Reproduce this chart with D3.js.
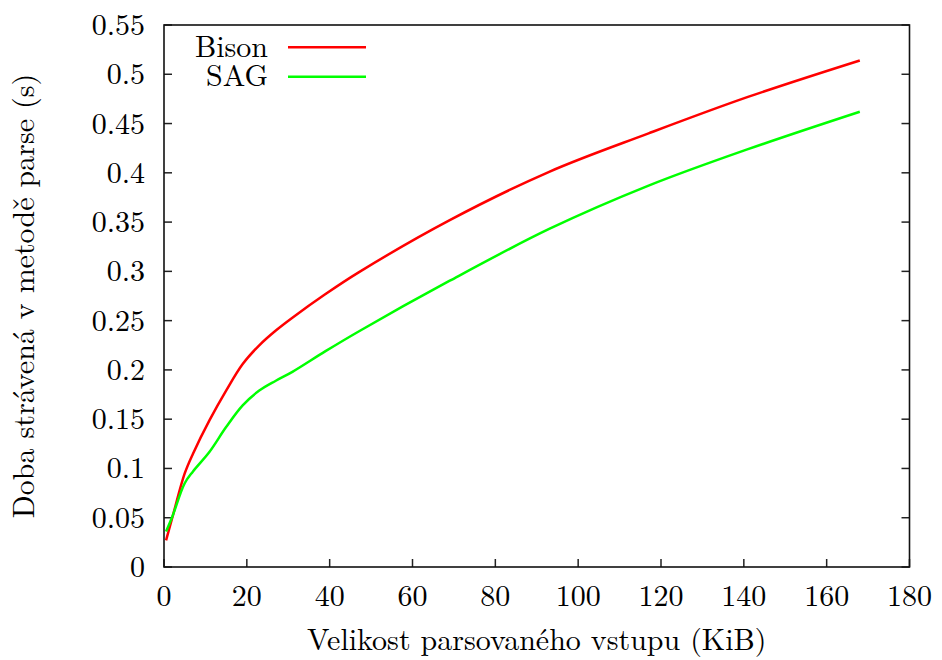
<!DOCTYPE html>
<html>
<head>
<meta charset="utf-8">
<script src="https://cdn.jsdelivr.net/npm/d3@7"></script>
<style>
  body { margin: 0; background: #fff; }
</style>
</head>
<body>
<div id="chart"></div>
<script>
// data
const sizes = [0.5, 2, 5, 7, 11, 15, 19, 23, 27, 31, 39, 47, 69, 93, 117, 141, 168];
const bison = [0.027, 0.050, 0.095, 0.115, 0.149, 0.179, 0.206, 0.225, 0.240, 0.253, 0.277, 0.299, 0.352, 0.401, 0.440, 0.477, 0.514];
const sag = [0.036, 0.051, 0.085, 0.097, 0.117, 0.142, 0.164, 0.179, 0.189, 0.198, 0.219, 0.239, 0.2905, 0.343, 0.387, 0.424, 0.462];
const xTicks = [0, 20, 40, 60, 80, 100, 120, 140, 160, 180];
const yTicks = [0, 0.05, 0.1, 0.15, 0.2, 0.25, 0.3, 0.35, 0.4, 0.45, 0.5, 0.55];
const seriesNames = ["Bison", "SAG"];
const seriesColors = ["#ff0000", "#00ff00"];

const width = 942, height = 660;
const margin = {top: 25, right: 32.5, bottom: 93, left: 164};
const innerW = width - margin.left - margin.right;
const innerH = height - margin.top - margin.bottom;

const FONT = "'Latin Modern Roman', 'Liberation Serif', serif";
const fontSize = 30;

const svg = d3.select("#chart").append("svg")
  .attr("width", width)
  .attr("height", height);

const g = svg.append("g").attr("transform", `translate(${margin.left},${margin.top})`);

const x = d3.scaleLinear().domain([0, 180]).range([0, innerW]);
const y = d3.scaleLinear().domain([0, 0.55]).range([innerH, 0]);

function label(sel) {
  return sel.style("font-family", FONT).style("font-size", fontSize + "px").attr("fill", "#000");
}

// ticks (inward), y mirrored on right
g.selectAll(".xt").data(xTicks).enter().append("line")
  .attr("x1", d => x(d)).attr("x2", d => x(d))
  .attr("y1", innerH).attr("y2", innerH - 8)
  .attr("stroke", "#222").attr("stroke-width", 1.5);
g.selectAll(".yl").data(yTicks).enter().append("line")
  .attr("x1", 0).attr("x2", 8)
  .attr("y1", d => y(d)).attr("y2", d => y(d))
  .attr("stroke", "#222").attr("stroke-width", 1.5);
g.selectAll(".yr").data(yTicks).enter().append("line")
  .attr("x1", innerW).attr("x2", innerW - 8)
  .attr("y1", d => y(d)).attr("y2", d => y(d))
  .attr("stroke", "#222").attr("stroke-width", 1.5);

// tick labels
g.selectAll(".xlab").data(xTicks).enter().append("text")
  .attr("x", d => x(d)).attr("y", innerH + 39)
  .attr("text-anchor", "middle")
  .call(label)
  .text(d => d);
g.selectAll(".ylab").data(yTicks).enter().append("text")
  .attr("x", -19).attr("y", d => y(d) + 10)
  .attr("text-anchor", "end")
  .call(label)
  .text(d => d3.format("~g")(d));

// border
g.append("rect")
  .attr("width", innerW).attr("height", innerH)
  .attr("fill", "none").attr("stroke", "#111").attr("stroke-width", 1.6);

// lines
const line = d3.line()
  .x((d, i) => x(sizes[i]))
  .y(d => y(d))
  .curve(d3.curveCatmullRom.alpha(0.5));

[bison, sag].forEach((vals, k) => {
  g.append("path")
    .datum(vals)
    .attr("d", line)
    .attr("fill", "none")
    .attr("stroke", seriesColors[k])
    .attr("stroke-width", 2.5);
});

// legend
seriesNames.forEach((name, k) => {
  const ly = 47.3 + k * 29.4;
  svg.append("text")
    .attr("x", 268).attr("y", ly + 9.5)
    .attr("text-anchor", "end")
    .call(label)
    .text(name);
  svg.append("line")
    .attr("x1", 288).attr("x2", 366)
    .attr("y1", ly).attr("y2", ly)
    .attr("stroke", seriesColors[k]).attr("stroke-width", 2.5);
});

// axis titles
svg.append("text")
  .attr("x", margin.left + innerW / 2).attr("y", 650)
  .attr("text-anchor", "middle")
  .call(label)
  .text("Velikost parsovaného vstupu (KiB)");
svg.append("text")
  .attr("transform", "translate(34,296) rotate(-90)")
  .attr("text-anchor", "middle")
  .call(label)
  .text("Doba strávená v metodě parse (s)");
</script>
</body>
</html>
